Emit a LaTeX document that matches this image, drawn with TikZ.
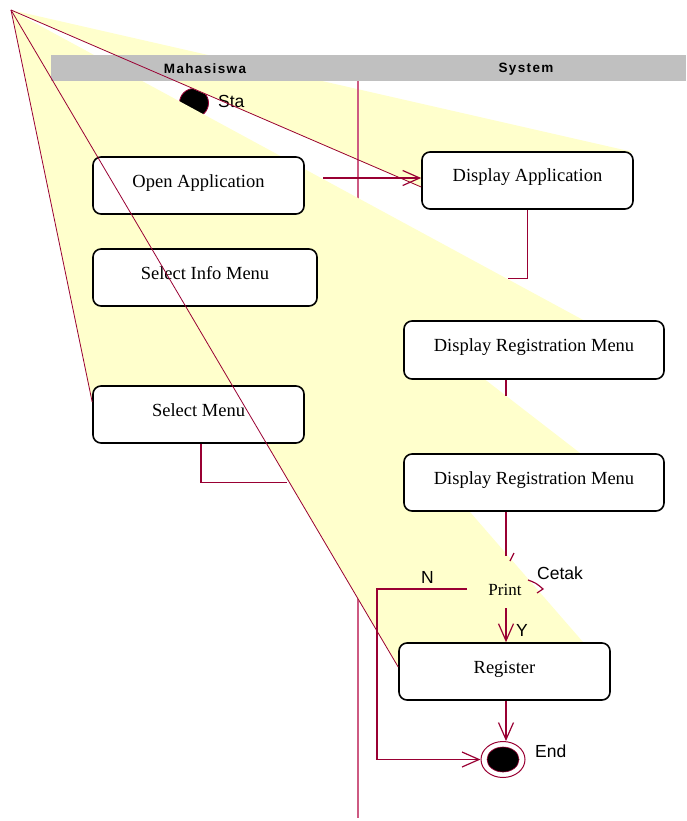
\documentclass[tikz,border=0pt]{standalone}
\usepackage{fontspec}
\setmainfont{Liberation Serif}
\newfontfamily\arialf{Liberation Sans}
\newfontfamily\arialsp[LetterSpace=10]{Liberation Sans}
\usetikzlibrary{arrows.meta,shapes.geometric}
\definecolor{maroon}{RGB}{153,0,51}
\definecolor{lanecol}{RGB}{205,90,130}
\definecolor{hdrgray}{RGB}{192,192,192}
\definecolor{paleyellow}{RGB}{255,255,204}
\tikzset{
  box/.style={draw=black, line width=1.6pt, rounded corners=8pt, fill=white, inner sep=0pt,
    font=\fontsize{18.5}{20}\selectfont, text height=13pt, text depth=10pt},
  conn/.style={draw=maroon, line width=1.2pt},
  arr/.style={conn, -{Straight Barb[length=17pt,width=15pt]}},
  fan/.style={draw=maroon, line width=0.8pt},
  lane/.style={draw=lanecol, line width=1.1pt},
  lbl/.style={font=\arialf\fontsize{17.5}{19}\selectfont, inner sep=0pt},
  hdrtext/.style={font=\arialsp\bfseries\fontsize{13.5}{15}\selectfont, inner sep=0pt},
}
\begin{document}
\begin{tikzpicture}[x=1pt,y=-1pt]
\useasboundingbox (0,0) rectangle (686,821);
\coordinate (apex) at (11,10);

% start circle (partly covered by the yellow fan)
\node[circle, fill=black, draw=maroon, line width=0.8pt, minimum size=29pt, inner sep=0pt] (start) at (194,103) {};

% upper yellow wedge
\fill[paleyellow] (apex) -- (633,152) -- (420,187) -- cycle;
\node[lbl, anchor=base west] (starttxt) at (218,108) {Sta};

% lane divider (hidden under the lower yellow fan)
\coordinate (laneA) at (358,81);
\coordinate (laneD) at (358,818);
\draw[lane] (laneA) -- (laneD);

% lower yellow fan
\fill[paleyellow] (apex) -- (585,321) -- (483,378) -- (580,453) -- (470,512) -- (583,642)
   -- (398,667) -- (266,443) -- (92,402) -- cycle;

% header band
\node[fill=hdrgray, minimum width=635pt, minimum height=26pt, inner sep=0pt, anchor=north west] (hdr) at (51,55) {};
\node[hdrtext] (lanem) at (205,69) {Mahasiswa};
\node[hdrtext] (lanes) at (526,69) {System};

% boxes
\node[box, minimum width=211pt, minimum height=57pt] (oa) at (198.5,185.5) {Open Application};
\node[box, minimum width=224pt, minimum height=57pt] (sim) at (205,277.5) {Select Info Menu};
\node[box, minimum width=211pt, minimum height=57pt] (sm) at (198.5,414.5) {Select Menu};
\node[box, minimum width=211pt, minimum height=57pt] (da) at (527.5,180.5) {Display Application};
\node[box, minimum width=260pt, minimum height=58pt] (drm1) at (534,350) {Display Registration Menu};
\node[box, minimum width=260pt, minimum height=57pt] (drm2) at (534,482.5) {Display Registration Menu};
\node[box, minimum width=211pt, minimum height=57pt] (reg) at (504.5,671.5) {Register};

% fan lines from the apex
\draw[fan] (apex) -- ([yshift=-6.5pt]da.west);
\draw[fan] (apex) -- ([yshift=4.5pt]reg.west);
\draw[fan] (apex) -- ([yshift=12.5pt]sm.west);

% print decision (text only)
\node[font=\fontsize{17}{19}\selectfont, inner sep=1pt] (print) at (505,590) {Print};

% end node
\node[draw=maroon, line width=1pt, ellipse, minimum width=44pt, minimum height=36pt, inner sep=0pt] (endc) at (503,759.5) {};
\fill[black] (endc.center) ellipse [x radius=16pt, y radius=12.5pt];
\draw[maroon, line width=0.6pt] (endc.center) ellipse [x radius=16pt, y radius=12.5pt];

% connectors
\coordinate (oaout) at (323,178);
\draw[arr] (oaout) -- (oaout -| da.west);
\draw[conn] (da.south) -- ++(0,69) -- ++(-19.5,0);
\draw[conn] ([xshift=-28pt]drm1.south) -- ++(0,16);
\draw[conn] ([xshift=-28pt]drm2.south) -- ++(0,44);
\coordinate (frag1) at (510,561);
\draw[conn] (frag1) -- ++(4,-8);
\coordinate (cetakfrag) at (528,580);
\draw[conn] (cetakfrag) .. controls (536,583) .. (543,589) -- (537,593);
\draw[conn] ([xshift=2.5pt]sm.south) -- ++(0,39) -- ++(86,0);
\coordinate (printdown) at (506,608);
\draw[arr] (printdown) -- (printdown |- reg.north);
\draw[arr] ([xshift=1.5pt]reg.south) -- ([xshift=3pt]endc.north);
\coordinate (nstart) at (467,589);
\coordinate (nturn) at (377,589);
\draw[arr] (nstart) -- (nturn) |- (endc.west);

% labels
\node[lbl, anchor=base west] (cetak) at (537,579) {Cetak};
\node[lbl, anchor=base west] (nlbl) at (421,583) {N};
\node[lbl, anchor=base west] (ylbl) at (516,636) {Y};
\node[lbl, anchor=base west] (endlbl) at (535,757) {End};
\end{tikzpicture}
\end{document}
